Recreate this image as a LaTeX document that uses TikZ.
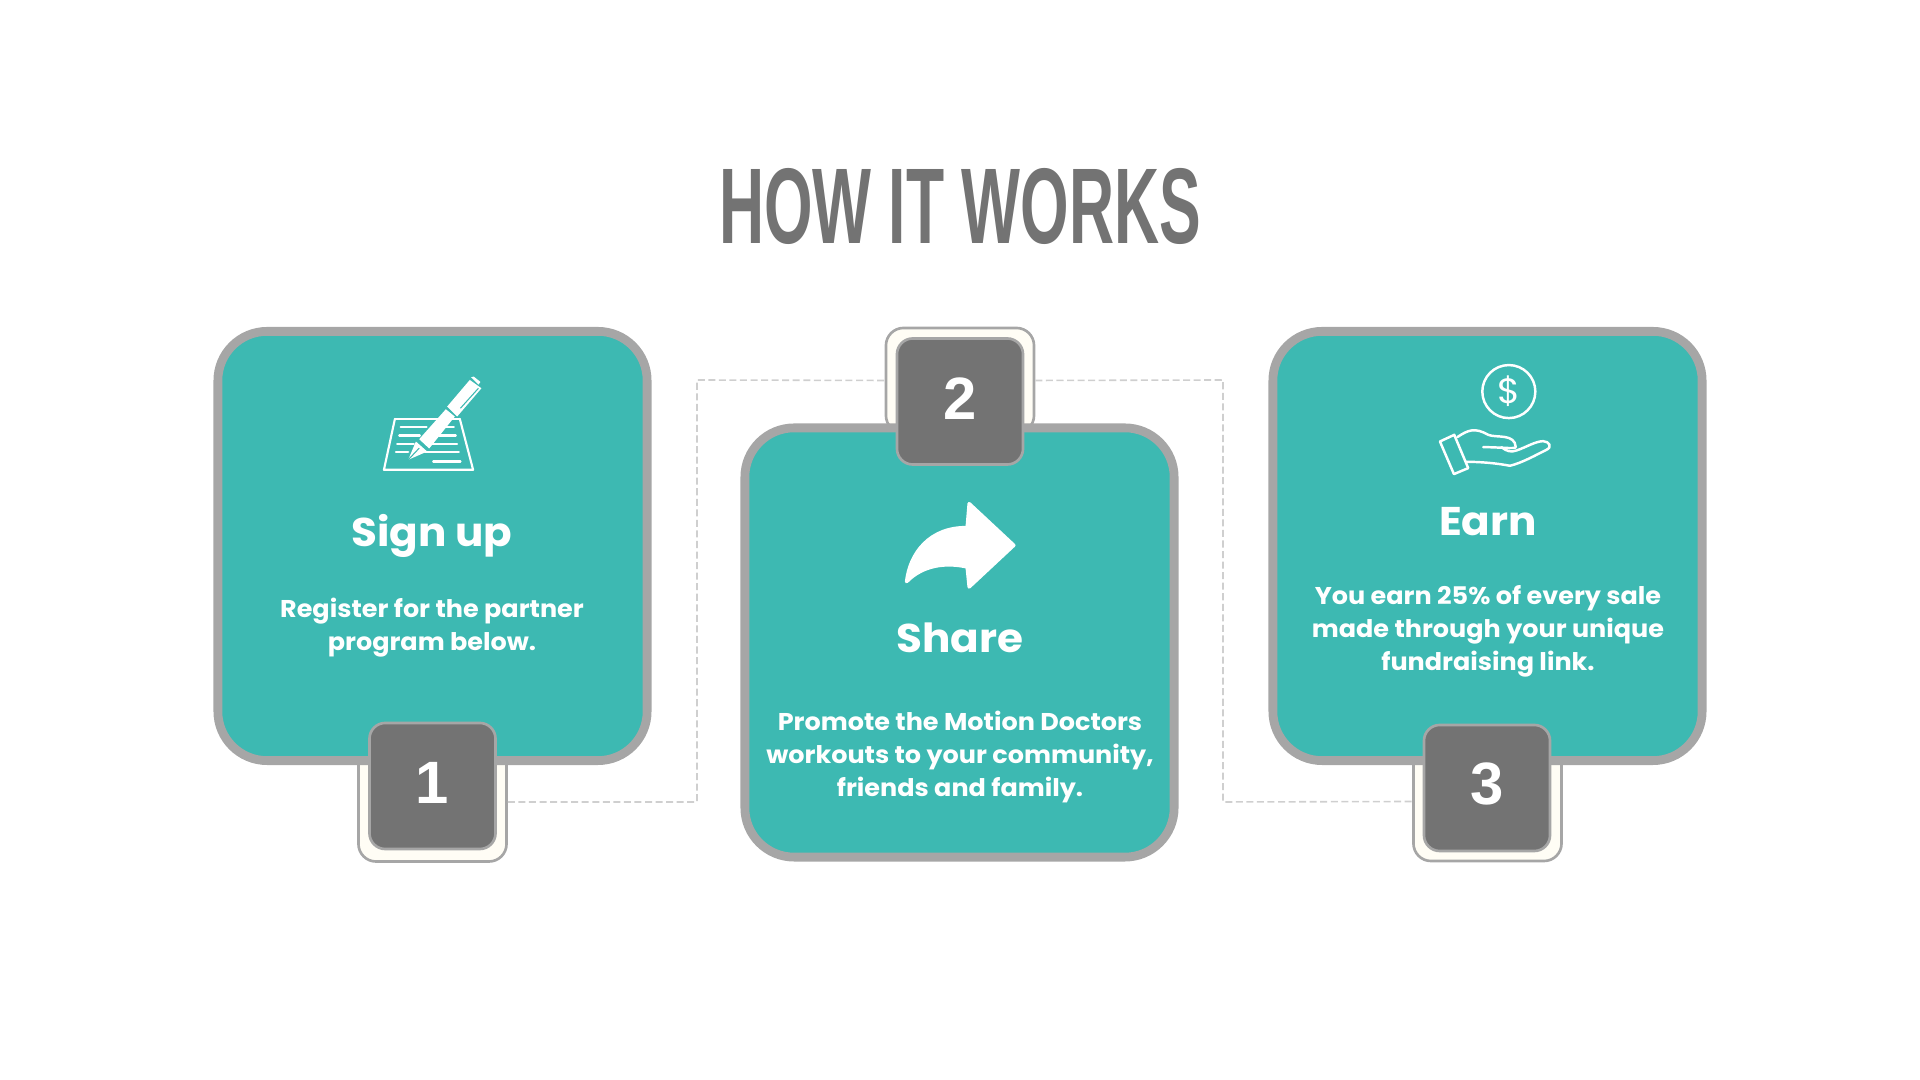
\documentclass[tikz,border=0pt]{standalone}
\usepackage{fontspec}
\setmainfont[FakeStretch=1.05]{Poppins}
\newfontfamily\titlefont[FakeStretch=0.58]{Liberation Sans}
\newfontfamily\numfont{Liberation Sans}
\definecolor{cardteal}{HTML}{3DB9B2}
\definecolor{edgegray}{HTML}{A6A6A6}
\definecolor{boxgray}{HTML}{737373}
\definecolor{creamback}{HTML}{FFFDF5}
\definecolor{linkgray}{HTML}{CFCFCF}
\tikzset{
	card/.style={draw=edgegray,fill=cardteal,line width=2.5pt,rounded corners=14pt,minimum width=4.29cm,minimum height=4.29cm,inner sep=0pt},
	numback/.style={draw=edgegray,fill=creamback,line width=0.75pt,rounded corners=5pt,minimum width=1.48cm,inner sep=0pt},
	numbox/.style={draw=edgegray,fill=boxgray,line width=0.75pt,rounded corners=4.5pt,minimum width=1.26cm,minimum height=1.26cm,inner sep=0pt,text=white,text height=12.2pt,text depth=2pt,font=\numfont\bfseries\fontsize{17}{20}\selectfont},
	link/.style={draw=linkgray,line width=0.45pt,dash pattern=on 2pt off 1pt},
	heading/.style={text=white,font=\bfseries\fontsize{11.4}{14}\selectfont,inner sep=0pt},
	body/.style={text=white,align=center,font=\bfseries\fontsize{6.9}{9.4}\selectfont,inner sep=0pt},
	icon/.style={draw=white,line width=0.6pt,line join=round,line cap=round}
}
\begin{document}
\begin{tikzpicture}[x=0.01cm,y=-0.01cm]
	\useasboundingbox (0,0) rectangle (1920,1080);
	\node[text=boxgray,font=\titlefont\bfseries\fontsize{30.6}{34}\selectfont,inner sep=0pt] (title) at (960,206) {HOW IT WORKS};

	% back plates and the dashed links
	\node[numback,minimum height=1.19cm] (back1) at (432.5,802) {};
	\node[numback,minimum height=1.05cm] (back2) at (960,380.5) {};
	\node[numback,minimum height=1.19cm] (back3) at (1487.5,801.5) {};
	\coordinate (linkA) at (697,802);
	\coordinate (linkB) at (697,380);
	\coordinate (linkC) at (1223,380);
	\coordinate (linkD) at (1223,802);
	\draw[link] (back1.east) -- (linkA) -- (linkB) -- (back2.west);
	\draw[link] (back2.east) -- (linkC) -- (linkD) -- (back3.west);

	% cards
	\node[card] (signup) at (432.5,546) {};
	\node[card] (share) at (959.5,642.5) {};
	\node[card] (earn) at (1487.5,546) {};

	\node[numbox] (one) at (432.5,786) {1};
	\node[numbox] (two) at (960,401.5) {2};
	\node[numbox,text depth=3pt] (three) at (1487,788) {3};

	\node[heading] (signuphead) at (432,536) {Sign up};
	\node[body] (signuptext) at (432,628) {Register for the partner\\program below.};
	\node[heading] (sharehead) at (960,638) {Share};
	\node[body] (sharetext) at (960,757) {Promote the Motion Doctors\\workouts to your community,\\friends and family.};
	\node[heading] (earnhead) at (1488,522) {Earn};
	\node[body] (earntext) at (1488,631) {You earn 25\% of every sale\\made through your unique\\fundraising link.};

	% pen and paper
	\begin{scope}[shift={(340,350)},x=0.00333cm,y=-0.00333cm]
		\draw[icon] (165,207) -- (360,207);
		\draw[icon] (165,207) -- (132,360) -- (400,360) -- (360,207);
		\draw[icon] (182,232) -- (260,232);
		\draw[icon] (290,232) -- (342,232);
		\draw[icon] (178,257) -- (240,257);
		\draw[icon] (297,257) -- (348,257);
		\draw[icon] (172,282) -- (222,282);
		\draw[icon] (275,282) -- (352,282);
		\draw[icon] (168,307) -- (205,307);
		\draw[icon] (255,307) -- (357,307);
		\draw[icon] (280,335) -- (362,335);
		\fill[white] (205,330) -- (228,275) -- (262,305) -- cycle;
		\fill[white] (238,268) -- (318,178) -- (345,200) -- (268,296) -- cycle;
		\fill[white] (322,170) -- (390,90) -- (425,115) -- (352,200) -- cycle;
		\fill[white] (394,82) -- (402,80) -- (422,96) -- (416,104) -- cycle;
		\draw[cardteal,line width=0.3pt] (362,175) -- (416,115);
		\draw[cardteal,line width=0.3pt] (205,330) -- (238,295);
	\end{scope}

	% share arrow
	\begin{scope}[shift={(880,320)},x=0.00333cm,y=-0.00333cm]
		\fill[white,draw=white,line width=1pt,line join=round] (268,552) -- (402,677) -- (268,802) -- (262,742)
			.. controls (200,728) and (130,735) .. (80,786)
			.. controls (90,700) and (150,622) .. (262,624) -- cycle;
	\end{scope}

	% coin and hand
	\begin{scope}[shift={(1400,340)},x=0.00333cm,y=-0.00333cm]
		\node[draw=white,line width=0.7pt,circle,minimum size=0.53cm,inner sep=0pt,text=white,font=\fontsize{10}{11}\selectfont] (coin) at (327,155) {\$};
		\draw[icon,line width=0.7pt] (120,305) -- (163,285) -- (205,385) -- (162,403) -- cycle;
		\draw[icon,line width=0.7pt] (172,292) .. controls (205,270) and (225,262) .. (265,285)
			.. controls (290,295) and (345,280) .. (348,322)
			.. controls (345,328) and (300,322) .. (250,322);
		\draw[icon,line width=0.7pt] (305,322) .. controls (320,335) and (335,338) .. (350,332)
			.. controls (380,322) and (405,305) .. (430,304)
			.. controls (450,305) and (458,322) .. (440,330)
			.. controls (410,345) and (365,370) .. (330,378)
			.. controls (290,370) and (240,366) .. (198,366);
	\end{scope}
\end{tikzpicture}
\end{document}
